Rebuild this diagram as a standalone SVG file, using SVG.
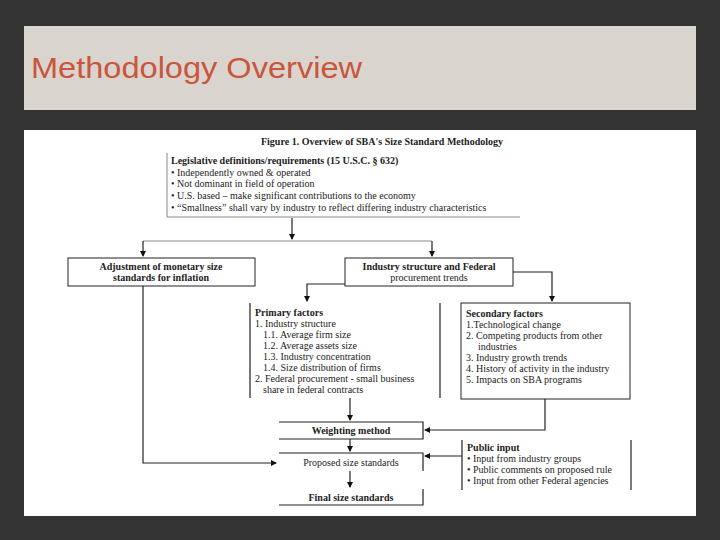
<svg xmlns="http://www.w3.org/2000/svg" width="720" height="540" viewBox="0 0 720 540">
<defs>
<marker id="ah" markerWidth="6" markerHeight="6" refX="5" refY="3" orient="auto" markerUnits="userSpaceOnUse"><path d="M0,0 L6,3 L0,6 Z" fill="#111"/></marker>
<style>
.t{font-family:"Liberation Serif",serif;font-size:10px;fill:#222}
.b{font-weight:bold}
.box{fill:#fff;stroke:#222;stroke-width:1}
.c{fill:none;stroke:#222;stroke-width:1.2}
.g{fill:none;stroke:#888;stroke-width:1}
</style>
</defs>
<rect width="720" height="540" fill="#333"/>
<rect x="24" y="26" width="672" height="84" fill="#d9d4cd"/>
<text x="31" y="78" font-family="Liberation Sans, sans-serif" font-size="29" fill="#c9553d" textLength="331" lengthAdjust="spacingAndGlyphs">Methodology Overview</text>
<rect x="24" y="130" width="672" height="386" fill="#fff"/>
<text class="t b" x="382" y="145" text-anchor="middle" font-size="10.5">Figure 1. Overview of SBA's Size Standard Methodology</text>
<g id="legislative">
<path d="M167,153 V217 H520" class="g"/>
<text class="t b" x="171" y="164">Legislative definitions/requirements (15 U.S.C. § 632)</text>
<text class="t" x="171" y="176">• Independently owned &amp; operated</text>
<text class="t" x="171" y="187">• Not dominant in field of operation</text>
<text class="t" x="171" y="199">• U.S. based – make significant contributions to the economy</text>
<text class="t" x="171" y="211">• “Smallness” shall vary by industry to reflect differing industry characteristics</text>
</g>
<g id="connectors">
<path d="M292,218 V239" class="c" stroke-width="2" marker-end="url(#ah)"/>
<path d="M143,241 H432" class="g"/>
<path d="M143,241 V256" class="c" marker-end="url(#ah)"/>
<path d="M432,241 V256" class="c" stroke-width="2" marker-end="url(#ah)"/>
<path d="M345,284 H307 V301" class="c" marker-end="url(#ah)"/>
<path d="M513,272 H552 V301" class="c" marker-end="url(#ah)"/>
<path d="M143,286 V463 H276" class="c" marker-end="url(#ah)"/>
<path d="M350,398 V420" class="c" stroke-width="2" marker-end="url(#ah)"/>
<path d="M545,399 V430 H425" class="c" marker-end="url(#ah)"/>
<path d="M350,439 V451" class="c" stroke-width="2" marker-end="url(#ah)"/>
<path d="M462,456 H425" class="c" marker-end="url(#ah)"/>
<path d="M350,471 V487" class="c" stroke-width="2" marker-end="url(#ah)"/>
</g>
<g id="adjustment">
<rect class="box" x="68" y="258" width="187" height="28"/>
<text class="t b" x="161" y="270" text-anchor="middle">Adjustment of monetary size</text>
<text class="t b" x="161" y="281" text-anchor="middle">standards for inflation</text>
</g>
<g id="industry">
<rect class="box" x="345" y="258" width="168" height="28"/>
<text class="t b" x="429" y="270" text-anchor="middle">Industry structure and Federal</text>
<text class="t" x="429" y="281" text-anchor="middle">procurement trends</text>
</g>
<g id="primary">
<path d="M250,303 V398 M440,303 V398" class="c" stroke-width="1"/>
<text class="t b" x="255" y="316">Primary factors</text>
<text class="t" x="255" y="327">1. Industry structure</text>
<text class="t" x="263" y="338">1.1. Average firm size</text>
<text class="t" x="263" y="349">1.2. Average assets size</text>
<text class="t" x="263" y="360">1.3. Industry concentration</text>
<text class="t" x="263" y="371">1.4. Size distribution of firms</text>
<text class="t" x="255" y="382">2. Federal procurement - small business</text>
<text class="t" x="263" y="393">share in federal contracts</text>
</g>
<g id="secondary">
<rect class="box" x="461" y="303" width="169" height="96"/>
<text class="t b" x="466" y="317">Secondary factors</text>
<text class="t" x="466" y="328">1.Technological change</text>
<text class="t" x="466" y="339">2. Competing products from other</text>
<text class="t" x="478" y="350">industries</text>
<text class="t" x="466" y="361">3. Industry growth trends</text>
<text class="t" x="466" y="372">4. History of activity in the industry</text>
<text class="t" x="466" y="383">5. Impacts on SBA programs</text>
</g>
<g id="weighting">
<path d="M279,422 H423 V439 H279" class="c" stroke-width="1"/>
<text class="t b" x="351" y="434" text-anchor="middle">Weighting method</text>
</g>
<g id="proposed">
<path d="M279,453 H423 V471" class="c" stroke-width="1"/>
<text class="t" x="351" y="466" text-anchor="middle">Proposed size standards</text>
</g>
<g id="public">
<path d="M462,440 V490 M631,440 V490" class="c" stroke-width="1"/>
<text class="t b" x="467" y="451">Public input</text>
<text class="t" x="467" y="462">• Input from industry groups</text>
<text class="t" x="467" y="473">• Public comments on proposed rule</text>
<text class="t" x="467" y="484">• Input from other Federal agencies</text>
</g>
<g id="final">
<path d="M279,505 H423 V489" class="c" stroke-width="1"/>
<text class="t b" x="351" y="501" text-anchor="middle">Final size standards</text>
</g>
</svg>
